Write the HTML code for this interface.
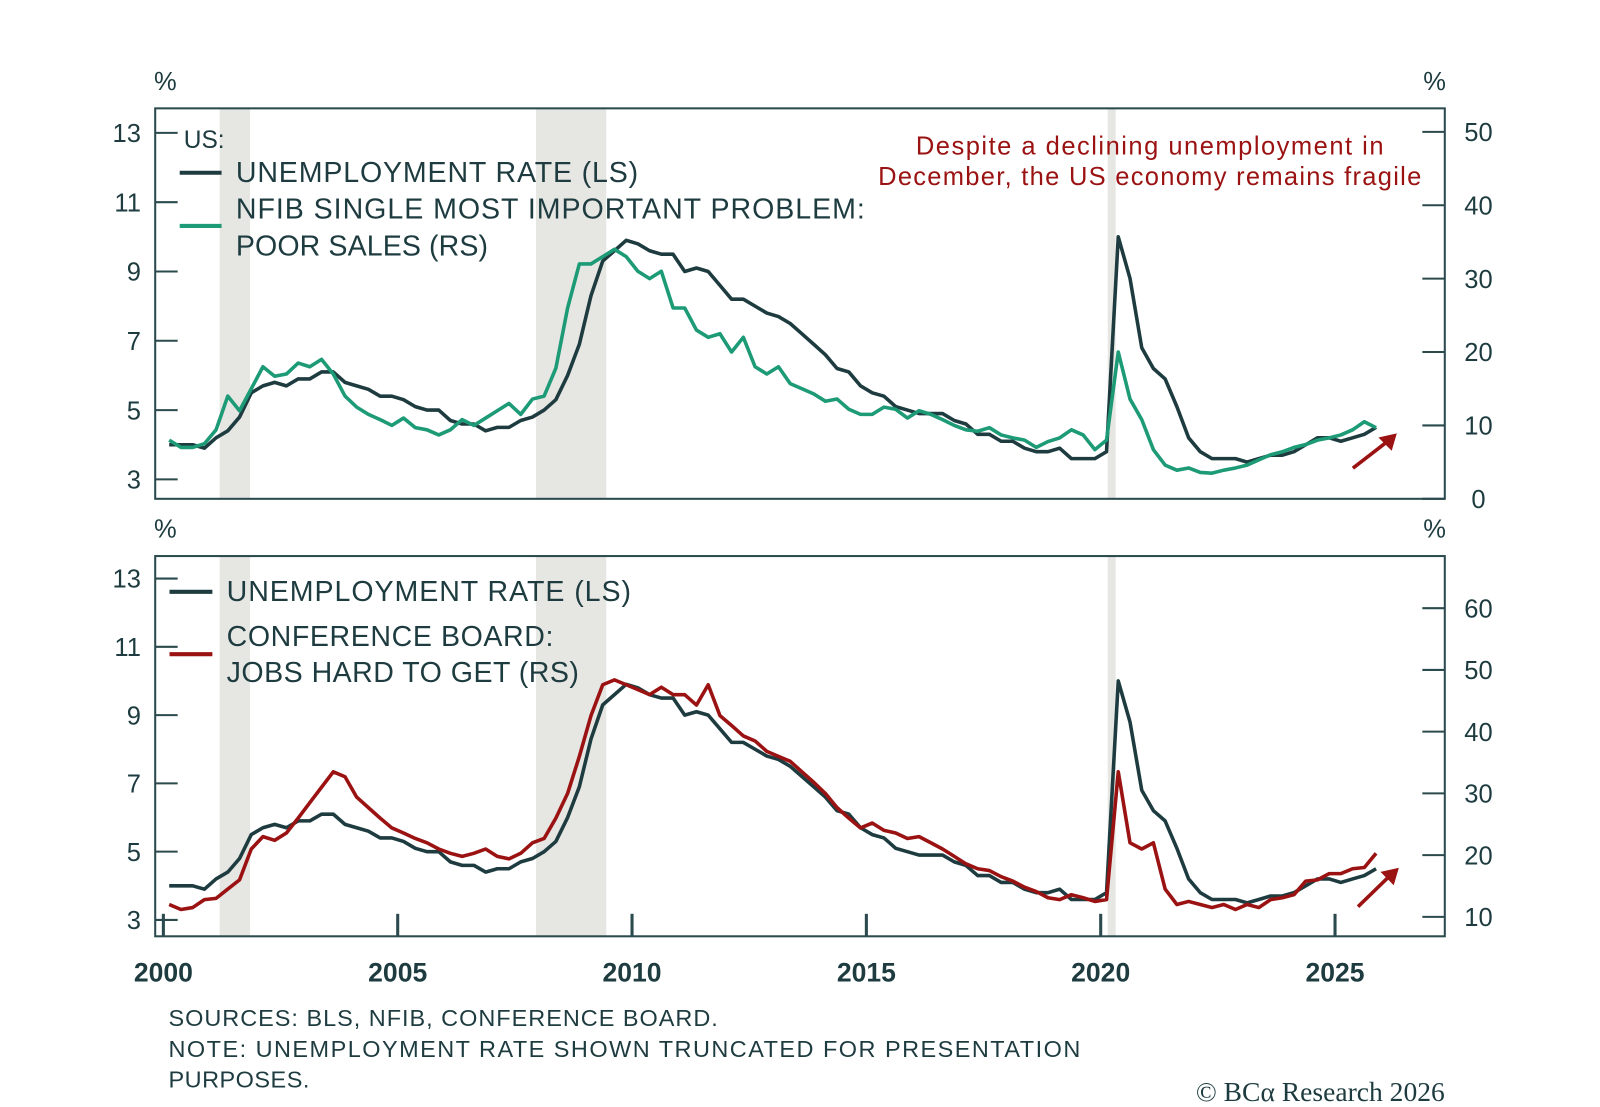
<!DOCTYPE html>
<html><head><meta charset="utf-8"><style>
body{margin:0;background:#fff;}
svg{display:block;font-family:"Liberation Sans",sans-serif;}
</style></head><body>
<svg id="c" width="1600" height="1107" viewBox="0 0 1567 1083" preserveAspectRatio="none"></svg>
<script>
const years = [2000,2005,2010,2015,2020,2025];
const leftTicks = [3,5,7,9,11,13];
const topRightTicks = [0,10,20,30,40,50];
const botRightTicks = [10,20,30,40,50,60];
const recessions = [[2001.2,2001.85],[2007.95,2009.45],[2020.15,2020.32]];
const unemployment = [4.0,4.0,4.0,3.9, 4.2,4.4,4.8,5.5, 5.7,5.8,5.7,5.9, 5.9,6.1,6.1,5.8, 5.7,5.6,5.4,5.4, 5.3,5.1,5.0,5.0, 4.7,4.6,4.6,4.4, 4.5,4.5,4.7,4.8, 5.0,5.3,6.0,6.9, 8.3,9.3,9.6,9.9, 9.8,9.6,9.5,9.5, 9.0,9.1,9.0,8.6, 8.2,8.2,8.0,7.8, 7.7,7.5,7.2,6.9, 6.6,6.2,6.1,5.7, 5.5,5.4,5.1,5.0, 4.9,4.9,4.9,4.7, 4.6,4.3,4.3,4.1, 4.1,3.9,3.8,3.8, 3.9,3.6,3.6,3.6, 3.8,10.0,8.8,6.8, 6.2,5.9,5.1,4.2, 3.8,3.6,3.6,3.6, 3.5,3.6,3.7,3.7, 3.8,4.0,4.2,4.2, 4.1,4.2,4.3,4.5];
const poorSales = [8,7,7,7.5, 9.4,14,12,15, 18,16.7,17,18.5, 18,19,17,14, 12.5,11.5,10.8,10, 11,9.7,9.4,8.7, 9.4,10.8,10,11, 12,13,11.5,13.6, 14,17.8,26,32, 32,33,34,33, 31,30,31,26, 26,23,22,22.5, 20,22,18,17, 18,15.7,15,14.3, 13.3,13.6,12.2,11.5, 11.5,12.5,12.2,11, 12,11.5,10.8,10, 9.4,9.2,9.7,8.7, 8.3,8,7,7.8, 8.3,9.4,8.7,6.7, 8,20,13.6,10.8, 6.7,4.6,3.9,4.2, 3.6,3.5,3.9,4.2, 4.6,5.3,6,6.4, 7,7.4,8,8.3, 8.7,9.4,10.5,9.7];
const jobsHard = [12,11.2,11.5,12.8, 13,14.5,16,21, 23,22.4,23.6,26, 28.5,31,33.5,32.7, 29.4,27.7,26,24.4, 23.6,22.7,22,21, 20.3,19.8,20.3,21, 19.8,19.4,20.3,22, 22.7,26,30,36, 42.6,47.6,48.4,47.6, 46.8,46,47.2,46, 46,44.3,47.6,42.6, 41,39.3,38.5,36.8, 36,35.2,33.5,31.8, 30,27.7,26,24.4, 25.2,24,23.6,22.7, 23,22,21,19.8, 18.6,17.8,17.5,16.5, 15.8,14.8,14.1,13.1, 12.8,13.6,13.1,12.5, 12.8,33.5,22,21, 22,14.5,12,12.5, 12,11.5,12,11.2, 12,11.5,12.8,13.1, 13.6,15.8,16,17, 17,17.8,18,20.3];

const NS="http://www.w3.org/2000/svg";
const svg=document.getElementById('c');
function el(tag,attrs,parent){const e=document.createElementNS(NS,tag);for(const k in attrs)e.setAttribute(k,attrs[k]);(parent||svg).appendChild(e);return e;}
function txt(s,attrs){const e=el('text',attrs);e.textContent=s;return e;}
const DARK='#1e3c40', GREEN='#1d9a76', RED='#9b1212', AX='#2b4a4d';
const X0=152,X1=1415;
const xs=t=>160+(t-2000)*45.9;
const P=[{top:106,bot:488,l:v=>469-(v-3)*33.9,r:v=>488-v*7.18,rt:topRightTicks,s2:poorSales,c2:GREEN,name:'top'},
         {top:544,bot:916,l:v=>900-(v-3)*33.4,r:v=>897-(v-10)*6.04,rt:botRightTicks,s2:jobsHard,c2:RED,name:'bottom'}];
P.forEach((p,pi)=>{
  recessions.forEach(r=>{
    const e=el('rect',{x:xs(r[0]),y:p.top,width:xs(r[1])-xs(r[0]),height:p.bot-p.top,fill:'#e6e6e3'});
    
    
  });
  const b=el('rect',{x:X0,y:p.top,width:X1-X0,height:p.bot-p.top,fill:'none',stroke:AX,'stroke-width':2});
  
  
  leftTicks.forEach(v=>{
    const y=p.l(v);
    el('line',{x1:X0,x2:X0+22,y1:y,y2:y,stroke:AX,'stroke-width':2});
    const t=txt(String(v),{x:138,y:y+9,'text-anchor':'end','font-size':25,fill:DARK});
    
    
  });
  p.rt.forEach(v=>{
    const y=p.r(v);
    el('line',{x1:X1-22,x2:X1,y1:y,y2:y,stroke:AX,'stroke-width':2});
    const t=txt(String(v),{x:1448,y:y+9,'text-anchor':'middle','font-size':25,fill:DARK});
    
    
  });
  txt('%',{x:162,y:p.top-18,'text-anchor':'middle','font-size':25,fill:DARK});
  txt('%',{x:1405,y:p.top-18,'text-anchor':'middle','font-size':25,fill:DARK});
  const tt=i=>2000+(i+0.5)/4;
  const d2=p.s2.map((v,i)=>(i?'L':'M')+xs(tt(i)).toFixed(1)+','+p.r(v).toFixed(1)).join('');
  const d1=unemployment.map((v,i)=>(i?'L':'M')+xs(tt(i)).toFixed(1)+','+p.l(v).toFixed(1)).join('');
  const l1=el('path',{d:d1,fill:'none',stroke:DARK,'stroke-width':3.5,'stroke-linejoin':'round'});
  
  
  const l2=el('path',{d:d2,fill:'none',stroke:p.c2,'stroke-width':3.5,'stroke-linejoin':'round'});
  
  
});
years.forEach(y=>{
  const x=xs(y);
  el('line',{x1:x,x2:x,y1:916,y2:894,stroke:AX,'stroke-width':3});
  const t=txt(String(y),{x:x,y:960,'text-anchor':'middle','font-size':26,'font-weight':'bold',fill:DARK});
  
  
});
txt('US:',{x:180,y:145,'font-size':24,fill:DARK});
el('line',{x1:176,x2:217,y1:169,y2:169,stroke:DARK,'stroke-width':4});
el('line',{x1:176,x2:217,y1:221,y2:221,stroke:GREEN,'stroke-width':4});
txt('UNEMPLOYMENT RATE (LS)',{x:231,y:178,'font-size':28,fill:DARK,textLength:394});
txt('NFIB SINGLE MOST IMPORTANT PROBLEM:',{x:231,y:214,'font-size':28,fill:DARK,textLength:616});
txt('POOR SALES (RS)',{x:231,y:250,'font-size':28,fill:DARK,textLength:247});
el('line',{x1:166,x2:208,y1:579,y2:579,stroke:DARK,'stroke-width':4});
el('line',{x1:166,x2:208,y1:640,y2:640,stroke:RED,'stroke-width':4});
txt('UNEMPLOYMENT RATE (LS)',{x:222,y:588,'font-size':28,fill:DARK,textLength:396});
txt('CONFERENCE BOARD:',{x:222,y:632,'font-size':28,fill:DARK,textLength:320});
txt('JOBS HARD TO GET (RS)',{x:222,y:667,'font-size':28,fill:DARK,textLength:345});
txt('Despite a declining unemployment in',{x:1126,y:151,'text-anchor':'middle','font-size':25,fill:RED,textLength:458});
txt('December, the US economy remains fragile',{x:1126,y:181,'text-anchor':'middle','font-size':25,fill:RED,textLength:532});
function arrow(x1,y1,x2,y2){
  el('line',{x1:x1,y1:y1,x2:x2-8,y2:y2+7,stroke:RED,'stroke-width':3.5});
  el('polygon',{points:`${x2},${y2} ${x2-18},${y2+4} ${x2-5},${y2+17}`,fill:RED});
}
arrow(1325,458,1368,424);
arrow(1330,887,1370,849);
txt('SOURCES: BLS, NFIB, CONFERENCE BOARD.',{x:165,y:1004,'font-size':23,fill:DARK,textLength:538});
txt('NOTE: UNEMPLOYMENT RATE SHOWN TRUNCATED FOR PRESENTATION',{x:165,y:1034,'font-size':23,fill:DARK,textLength:893});
txt('PURPOSES.',{x:165,y:1064,'font-size':23,fill:DARK,textLength:138});
txt('© BCα Research 2026',{x:1415,y:1077,'text-anchor':'end','font-size':27,fill:DARK,'font-family':'Liberation Serif, serif'});
</script>
</body></html>
